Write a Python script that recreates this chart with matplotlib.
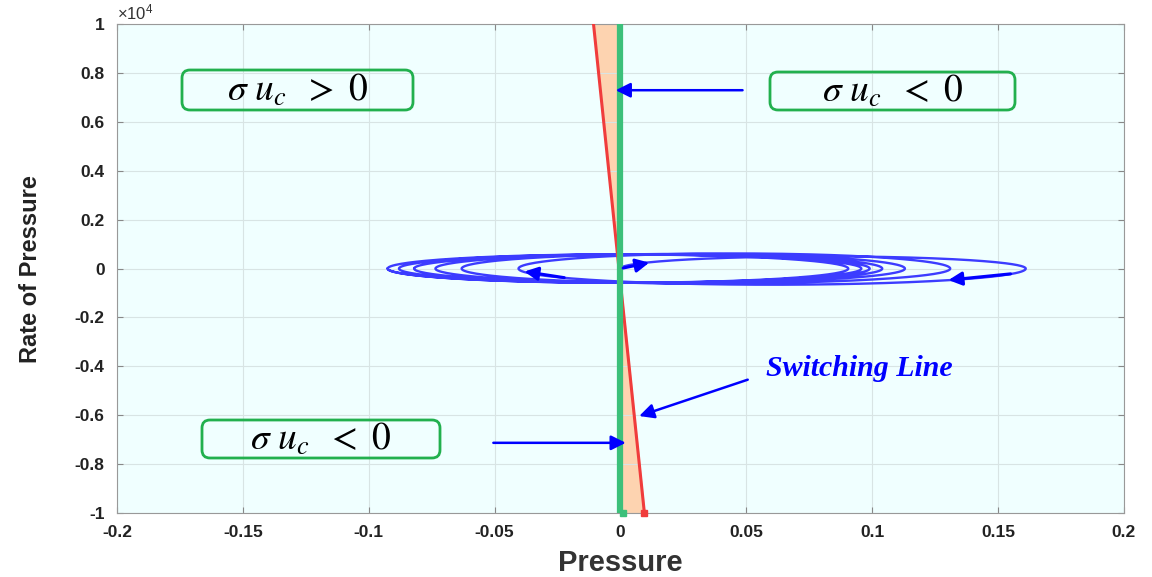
import matplotlib.pyplot as plt
import numpy as np
from matplotlib.patches import FancyBboxPatch

plt.rcParams['mathtext.fontset'] = 'stix'
plt.rcParams['font.family'] = ['Liberation Sans', 'DejaVu Sans']

# phase-plane data
x_ticks = [-0.2, -0.15, -0.1, -0.05, 0, 0.05, 0.1, 0.15, 0.2]
y_ticks = [-1e4, -0.8e4, -0.6e4, -0.4e4, -0.2e4, 0, 0.2e4, 0.4e4, 0.6e4, 0.8e4, 1e4]

# turning points of the pressure trajectory (x where rate of pressure = 0)
turn_x = [0.0, 0.161, -0.0405, 0.131, -0.0631, 0.113, -0.0735, 0.104,
          -0.082, 0.099, -0.088, 0.0957, -0.0925, 0.0905, -0.0925]
# peak |rate of pressure| on each half loop
peak_y = [500, 660, 620, 610, 600, 590, 590, 580, 580, 580, 580, 580, 580, 580]

# switching line end points (pressure at y = +1e4 and y = -1e4)
switch_y = [1e4, -1e4]
switch_x = [-0.0107, 0.0095]

bg = '#F0FFFF'
green = '#3CC07A'
red = '#F03C3C'
peach = '#FDD3B0'
blue = '#0000FF'
traj = '#3C3CFF'


def half_loop(a, b, peak, n=120):
    t = np.linspace(0, np.pi, n)
    c, h = (a + b) / 2, abs(b - a) / 2
    s = 1 if b > a else -1
    return c - s * h * np.cos(t), s * peak * np.sin(t)


fig = plt.figure(figsize=(11.52, 5.77), dpi=100)
ax = fig.add_axes([0.1016, 0.111, 0.874, 0.847])
ax.set_facecolor(bg)

# region between the y axis and the switching line
ax.fill_betweenx(switch_y, 0, switch_x, color=peach, zorder=1)
ax.plot(switch_x, switch_y, color=red, lw=2.2, zorder=3)
ax.axvline(0, color=green, lw=4.5, zorder=4)
ax.plot([switch_x[1]], [switch_y[1]], 's', color=red, ms=5, zorder=5, clip_on=False)
ax.plot([0.001], [-1e4], 's', color=green, ms=5, zorder=5, clip_on=False)

# trajectory
xs, ys = [], []
for a, b, p in zip(turn_x[:-1], turn_x[1:], peak_y):
    x, y = half_loop(a, b, p)
    xs.append(x)
    ys.append(y)
ax.plot(np.concatenate(xs), np.concatenate(ys), color=traj, lw=1.7, zorder=2)

# direction arrows along the trajectory
arrow_kw = dict(arrowstyle='-|>', color=blue, lw=2.2, mutation_scale=20)
for seg, t0, t1 in [(0, 0.0, 0.18), (1, 0.10, 0.26), (1, 0.80, 0.95)]:
    x, y = half_loop(turn_x[seg], turn_x[seg + 1], peak_y[seg], n=201)
    i0, i1 = int(t0 * 200), int(t1 * 200)
    ax.annotate('', xy=(x[i1], y[i1]), xytext=(x[i0], y[i0]),
                arrowprops=arrow_kw, zorder=6)

# pointer arrows
point_kw = dict(arrowstyle='-|>', color=blue, lw=1.8, mutation_scale=22)
ax.annotate('', xy=(-0.003, 0.73e4), xytext=(0.0496, 0.73e4), arrowprops=point_kw, zorder=6)
ax.annotate('', xy=(0.0032, -0.713e4), xytext=(-0.0516, -0.713e4), arrowprops=point_kw, zorder=6)
ax.annotate('', xy=(0.0064, -0.607e4), xytext=(0.0516, -0.451e4), arrowprops=point_kw, zorder=6)

ax.text(0.058, -0.41e4, 'Switching Line', color=blue, fontsize=21.5,
        fontfamily='Liberation Serif', fontweight='bold', fontstyle='italic',
        va='center', ha='left', zorder=6)

# sign labels in rounded boxes (positions in inches)
boxes = [((1.82, 4.67, 2.31, 0.40), r'$\sigma\ u_c\ \;>\ 0$'),
         ((7.70, 4.67, 2.45, 0.38), r'$\sigma\ u_c\ \;<\ 0$'),
         ((2.02, 1.19, 2.38, 0.38), r'$\sigma\ u_c\ \;<\ 0$')]
for (bx, by, bw, bh), label in boxes:
    fig.add_artist(FancyBboxPatch((bx, by), bw, bh, boxstyle='round,pad=0,rounding_size=0.08',
                                  transform=fig.dpi_scale_trans, fc='none', ec='#22B04E', lw=2,
                                  zorder=6))
    fig.text(bx + bw / 2, by + bh / 2 - 0.01, label, transform=fig.dpi_scale_trans,
             fontsize=27, ha='center', va='center', zorder=7)

ax.set_xlim(-0.2, 0.2)
ax.set_ylim(-1e4, 1e4)
ax.set_xticks(x_ticks)
ax.set_xticklabels(['%g' % v for v in x_ticks])
ax.set_yticks(y_ticks)
ax.set_yticklabels(['%g' % (v / 1e4) for v in y_ticks])
ax.tick_params(direction='in', top=True, right=True, length=4, color='#888888',
               labelsize=12.5, labelcolor='#222222')
ax.tick_params(axis='x', pad=9)
ax.tick_params(axis='y', pad=9)
for lab in ax.get_xticklabels() + ax.get_yticklabels():
    lab.set_fontweight('bold')
ax.grid(True, color='#D8E4E4', lw=0.8)
for sp in ax.spines.values():
    sp.set_color('#999999')

ax.text(0.0, 1.004, r'$\mathregular{\times 10^4}$', transform=ax.transAxes, fontsize=12,
        va='bottom', ha='left', color='#333333')

ax.set_xlabel('Pressure', fontsize=21, fontweight='bold', color='#333333', labelpad=6)
ax.set_ylabel('Rate of Pressure', fontsize=17, fontweight='bold', color='#222222')
ax.yaxis.set_label_coords(-0.0745, 0.5)

fig.savefig('out.png', dpi=100, facecolor='white')
